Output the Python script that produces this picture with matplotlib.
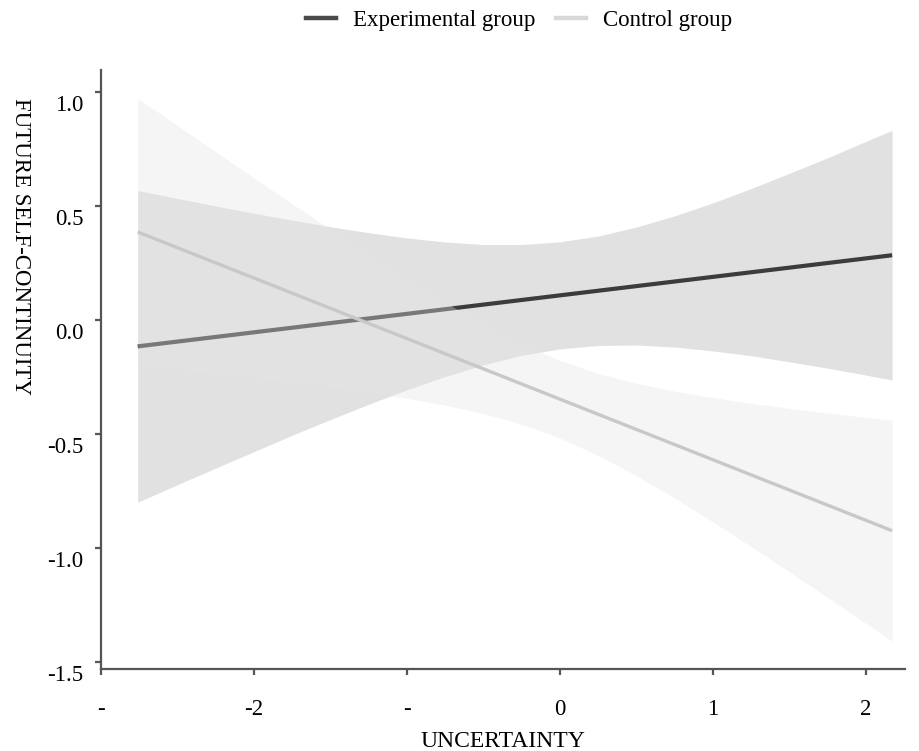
import matplotlib.pyplot as plt
import matplotlib.transforms as mtransforms
from matplotlib.lines import Line2D

plt.rcParams['font.family'] = ['Liberation Serif', 'DejaVu Serif']

# values
uncertainty = [-2.76, -2.5, -2.25, -2.0, -1.75, -1.5, -1.25, -1.0, -0.75, -0.5, -0.25,
               0.0, 0.25, 0.5, 0.75, 1.0, 1.25, 1.5, 1.75, 2.0, 2.17]

exp_upper = [0.568, 0.533, 0.500, 0.468, 0.438, 0.409, 0.383, 0.360, 0.342, 0.331, 0.331,
             0.343, 0.368, 0.408, 0.457, 0.514, 0.577, 0.644, 0.712, 0.784, 0.832]
exp_lower = [-0.800, -0.723, -0.650, -0.578, -0.506, -0.437, -0.370, -0.306, -0.248, -0.197, -0.155,
             -0.127, -0.112, -0.110, -0.119, -0.136, -0.157, -0.184, -0.212, -0.242, -0.264]

ctrl_upper = [0.973, 0.853, 0.738, 0.623, 0.510, 0.398, 0.287, 0.180, 0.077, -0.020, -0.106,
              -0.178, -0.235, -0.278, -0.313, -0.341, -0.366, -0.388, -0.409, -0.428, -0.440]
ctrl_lower = [-0.201, -0.219, -0.236, -0.255, -0.274, -0.296, -0.318, -0.344, -0.374, -0.411, -0.458,
              -0.518, -0.595, -0.684, -0.783, -0.887, -0.995, -1.106, -1.219, -1.332, -1.410]

line_x = [-2.76, 2.17]
exp_line = [-0.116, 0.284]
ctrl_line = [0.386, -0.925]

x_ticks = [-3, -2, -1, 0, 1, 2]
x_tick_labels = ['-', '-2', '-', '0', '1', '2']
y_ticks = [1.0, 0.5, 0.0, -0.5, -1.0, -1.5]
y_tick_labels = ['1.0', '0.5', '0.0', '-0.5', '-1.0', '-1.5']

fig = plt.figure(figsize=(9.19, 7.51), dpi=100)
ax = fig.add_axes([0.1099, 0.1092, 0.875, 0.7976])

ax.fill_between(uncertainty, exp_lower, exp_upper, color='#e1e1e1', linewidth=0, zorder=1)
ax.plot(line_x, exp_line, color='#3c3c3c', linewidth=3, solid_capstyle='butt', zorder=2)
ax.fill_between(uncertainty, ctrl_lower, ctrl_upper, color='#e4e4e4', alpha=0.36, linewidth=0, zorder=3)
ax.plot(line_x, ctrl_line, color='#c8c8c8', linewidth=2.4, solid_capstyle='butt', zorder=4)

ax.set_xlim(-3.0, 2.255)
ax.set_ylim(-1.532, 1.097)

ax.set_xticks(x_ticks)
ax.set_xticklabels(x_tick_labels)
ax.set_yticks(y_ticks)
ax.set_yticklabels(y_tick_labels)

for side in ['top', 'right']:
    ax.spines[side].set_visible(False)
for side in ['left', 'bottom']:
    ax.spines[side].set_color('#555555')
    ax.spines[side].set_linewidth(1.6)

ax.tick_params(axis='both', colors='#555555', labelcolor='black', labelsize=16.5, width=1.6, length=4.5)
ax.tick_params(axis='x', pad=17)
ax.tick_params(axis='y', pad=8)

# y tick labels sit a little below their ticks in the original
offset = mtransforms.ScaledTranslation(0, -11 / 100, fig.dpi_scale_trans)
for t in ax.yaxis.get_major_ticks():
    t.label1.set_transform(t.label1.get_transform() + offset)

ax.set_xlabel('UNCERTAINTY', fontsize=17, labelpad=8)
ax.set_ylabel('FUTURE SELF-CONTINUITY', fontsize=16.5, rotation=270, va='center')
ax.yaxis.set_label_coords(-0.1, 0.705)

handles = [Line2D([0], [0], color='#4a4a4a', linewidth=3.2),
           Line2D([0], [0], color='#d8d8d8', linewidth=3.2)]
fig.legend(handles, ['Experimental group', 'Control group'], loc='upper center',
           bbox_to_anchor=(0.565, 1.014), ncol=2, frameon=False, fontsize=16.5,
           handlelength=1.3, handletextpad=0.75, columnspacing=0.9)

fig.savefig('out.png', dpi=100)
